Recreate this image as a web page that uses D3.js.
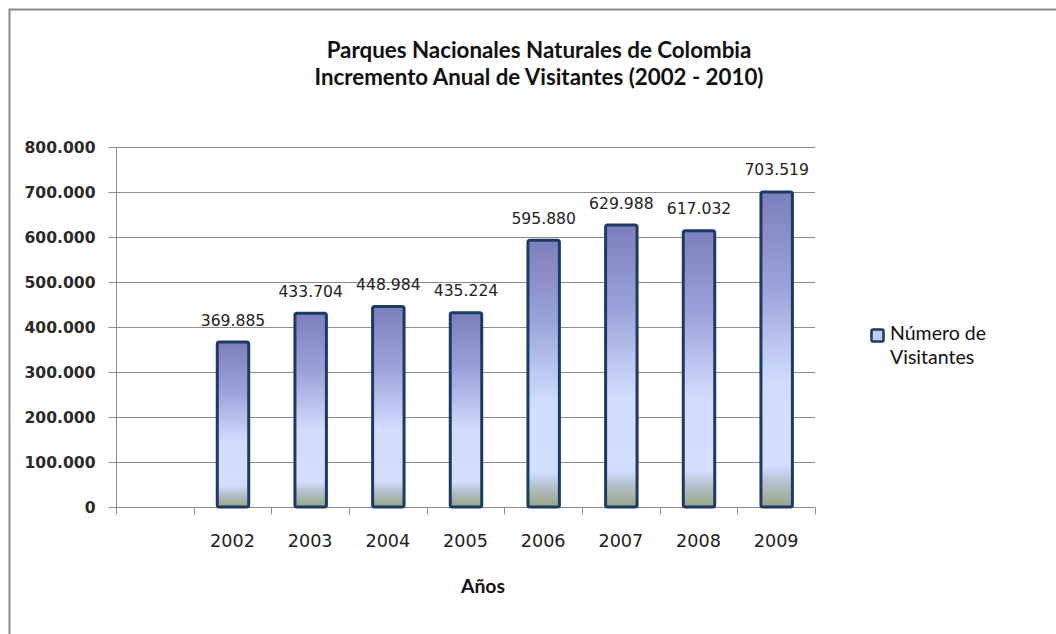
<!DOCTYPE html>
<html><head><meta charset="utf-8">
<script src="https://cdn.jsdelivr.net/npm/d3@7"></script>
<style>body{margin:0;background:#fff}svg{display:block}</style>
</head><body>
<svg id="c" width="1056" height="634"></svg>
<script>
const categories = ["", "2002", "2003", "2004", "2005", "2006", "2007", "2008", "2009"];
const values = [null, 369885, 433704, 448984, 435224, 595880, 629988, 617032, 703519];
const yTicks = [0, 100000, 200000, 300000, 400000, 500000, 600000, 700000, 800000];
const titleLines = ["Parques Nacionales Naturales de Colombia", "Incremento Anual de Visitantes (2002 - 2010)"];
const xTitle = "Años";
const legendLines = ["Número de", "Visitantes"];

const svg = d3.select("#c");
const fmt = v => d3.format(",")(v).replace(/,/g, ".");

function fit(t, w) {
  const fs = parseFloat(t.attr("font-size"));
  const len = t.node().getComputedTextLength();
  if (len > 0) t.attr("font-size", (fs * w / len).toFixed(2));
  return t;
}

// frame
svg.append("path").attr("d", "M9.5,640 L9.5,9.5 L1060,9.5").attr("fill", "none")
  .attr("stroke", "#8a8a8a").attr("stroke-width", 2);

const x = d3.scaleBand().domain(categories.map((c, i) => i)).range([116, 815]).padding(0);
const y = d3.scaleLinear().domain([0, 800000]).range([507, 147]);

const defs = svg.append("defs");
const g = defs.append("linearGradient").attr("id", "bg").attr("x1", 0).attr("y1", 0).attr("x2", 0).attr("y2", 1);
[[0, "#7c7fbd"], [0.3, "#9ba2d9"], [0.56, "#c9d4f9"], [0.61, "#d2ddfd"], [0.87, "#d3defe"], [0.92, "#b5c2cf"], [1, "#95a683"]]
  .forEach(s => g.append("stop").attr("offset", s[0]).attr("stop-color", s[1]));

// gridlines
svg.append("g").selectAll("line").data(yTicks.filter(t => t > 0)).join("line")
  .attr("x1", 116).attr("x2", 815).attr("y1", d => Math.round(y(d)) + 0.5).attr("y2", d => Math.round(y(d)) + 0.5)
  .attr("stroke", "#8c8c8c").attr("stroke-width", 1);

// y axis
const ya = svg.append("g").attr("transform", "translate(116.5,0)")
  .call(d3.axisLeft(y).tickValues(yTicks).tickSize(8).tickFormat(fmt));
ya.select(".domain").attr("stroke", "#8c8c8c").attr("d", "M0," + y(800000) + "V" + y(0));
ya.selectAll(".tick line").attr("stroke", "#8c8c8c");
ya.selectAll(".tick text").attr("x", -21).attr("dy", "0.36em")
  .attr("font-family", "DejaVu Sans").attr("font-weight", "bold").attr("font-size", 15.6).attr("fill", "#2a2a2a");
ya.selectAll(".tick").attr("transform", d => "translate(0," + (Math.round(y(d)) + 0.5) + ")");

// x axis
const xa = svg.append("g").attr("transform", "translate(0,507.5)");
xa.append("line").attr("x1", 116).attr("x2", 815).attr("stroke", "#8c8c8c");
const bounds = categories.map((c, i) => x(i)).concat([815]);
xa.selectAll("line.t").data(bounds).join("line").attr("class", "t")
  .attr("x1", d => Math.round(d) + 0.5).attr("x2", d => Math.round(d) + 0.5).attr("y1", 0).attr("y2", 7).attr("stroke", "#8c8c8c");
xa.selectAll("text").data(categories).join("text")
  .attr("x", (d, i) => x(i) + x.bandwidth() / 2).attr("y", 39)
  .attr("text-anchor", "middle").attr("font-family", "DejaVu Sans").attr("font-size", 17.6).attr("fill", "#222")
  .text(d => d);

// bars
const bw = x.bandwidth() * 0.405;
const data = values.map((v, i) => ({ v, i })).filter(d => d.v != null);
svg.append("g").selectAll("rect").data(data).join("rect")
  .attr("x", d => x(d.i) + x.bandwidth() / 2 - bw / 2 + 0.5)
  .attr("y", d => y(d.v) + 1.5)
  .attr("width", bw).attr("height", d => y(0) - y(d.v) - 1.5)
  .attr("rx", 2).attr("fill", "url(#bg)").attr("stroke", "#1c3a63").attr("stroke-width", 3);

// labels
svg.append("g").selectAll("text").data(data).join("text")
  .attr("x", d => x(d.i) + x.bandwidth() / 2 + 0.5).attr("y", d => y(d.v) - 15)
  .attr("text-anchor", "middle").attr("font-family", "DejaVu Sans").attr("font-size", 15.6).attr("fill", "#222")
  .text(d => fmt(d.v));

// title
const tl = [58, 85], tw = [425, 449];
titleLines.forEach((t, i) => {
  const el = svg.append("text").attr("x", 539).attr("y", tl[i]).attr("text-anchor", "middle")
    .attr("font-family", "Lato").attr("font-weight", "bold").attr("font-size", 19).attr("fill", "#111").text(t);
  fit(el, tw[i]);
});

// x title
fit(svg.append("text").attr("x", 483).attr("y", 593).attr("text-anchor", "middle")
  .attr("font-family", "Lato").attr("font-weight", "bold").attr("font-size", 17).attr("fill", "#111").text(xTitle), 44);

// legend
const lg = svg.append("g");
lg.append("rect").attr("x", 871.5).attr("y", 329.5).attr("width", 12).attr("height", 12).attr("rx", 1.5)
  .attr("fill", "#c3cbee").attr("stroke", "#1c3a63").attr("stroke-width", 2.5);
const l1 = lg.append("text").attr("x", 890).attr("y", 340).attr("font-family", "Lato").attr("font-size", 18).attr("fill", "#111").text(legendLines[0]);
fit(l1, 96);
lg.append("text").attr("x", 890).attr("y", 364).attr("font-family", "Lato").attr("font-size", l1.attr("font-size")).attr("fill", "#111").text(legendLines[1]);
</script>
</body></html>
